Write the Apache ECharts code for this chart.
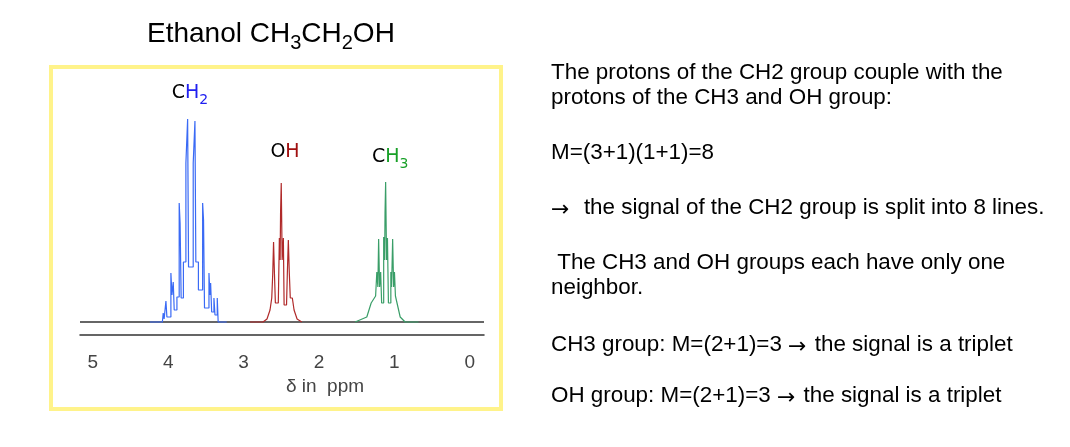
<!DOCTYPE html>
<html><head><meta charset="utf-8">
<script src="https://cdn.jsdelivr.net/npm/echarts@6/dist/echarts.min.js"></script>
<style>html,body{margin:0;padding:0;background:#fff}#c{width:1070px;height:447px}</style>
</head><body><div id="c"></div>
<script>
// ---- data (ppm, relative intensity) ----
const xTicks = [5, 4, 3, 2, 1, 0];
const xName = 'δ in  ppm';
const baselineTrace = [[5.17, 0], [-0.19, 0]];
const ch2Trace = [[4.243,0],[4.077,0],[4.066,0],[4.066,9],[4.054,9],[4.054,3],[4.030,3],[4.030,21],[4.017,21],[4.017,5],[3.964,5],[3.964,49],[3.950,49],[3.950,27],[3.933,27],[3.933,40],[3.920,40],[3.920,12],[3.884,12],[3.884,25],[3.854,25],[3.854,119],[3.842,119],[3.842,99],[3.828,99],[3.828,24],[3.798,24],[3.798,60],[3.765,60],[3.765,159],[3.742,159],[3.742,203],[3.730,203],[3.730,55],[3.668,55],[3.668,159],[3.645,159],[3.645,201],[3.633,201],[3.633,60],[3.599,60],[3.599,32],[3.543,32],[3.543,119],[3.531,119],[3.531,102],[3.518,102],[3.518,14],[3.459,14],[3.459,49],[3.446,49],[3.446,27],[3.437,27],[3.437,39],[3.423,39],[3.423,10],[3.393,10],[3.393,24],[3.379,24],[3.379,7],[3.349,7],[3.349,24],[3.337,24],[3.337,0],[3.224,0]];
const ohTrace = [[2.915,0],[2.742,0],[2.689,3],[2.649,12],[2.626,24],[2.613,24],[2.613,48],[2.602,48],[2.602,80],[2.590,80],[2.590,48],[2.578,48],[2.578,19],[2.539,19],[2.525,19],[2.525,84],[2.515,84],[2.515,62],[2.509,62],[2.509,109],[2.500,109],[2.500,139],[2.488,139],[2.488,62],[2.472,62],[2.472,84],[2.462,84],[2.462,17],[2.430,17],[2.419,17],[2.419,49],[2.406,49],[2.406,82],[2.393,82],[2.393,49],[2.380,49],[2.380,24],[2.353,24],[2.330,12],[2.290,3],[2.228,0]];
const ch3Trace = [[1.520,0],[1.365,5],[1.307,19],[1.248,26],[1.232,26],[1.232,50],[1.218,50],[1.218,35],[1.208,35],[1.208,83],[1.195,83],[1.195,35],[1.181,35],[1.181,50],[1.168,50],[1.168,19],[1.141,19],[1.141,85],[1.128,85],[1.128,62],[1.123,62],[1.123,109],[1.115,109],[1.115,140],[1.103,140],[1.103,62],[1.091,62],[1.091,84],[1.078,84],[1.078,19],[1.046,19],[1.046,50],[1.036,50],[1.036,35],[1.022,35],[1.022,83],[1.009,83],[1.009,35],[0.998,35],[0.998,50],[0.985,50],[0.985,26],[0.969,26],[0.922,5],[0.856,0],[0.679,0]];
const peakLabels = ['{k|C}{h|H}{s|2}', '{k|O}{h|H}', '{k|C}{h|H}{s|3}'];
const titleText = '{m|Ethanol CH}{s|3}{m|CH}{s|2}{m|OH}';
const notes = [
  '{t|The protons of the CH2 group couple with the}',
  '{t|protons of the CH3 and OH group:}',
  '{t|M=(3+1)(1+1)=8}',
  '{a|→}{t|  the signal of the CH2 group is split into 8 lines.}',
  '{t| The CH3 and OH groups each have only one}',
  '{t|neighbor.}',
  '{t|CH3 group: M=(2+1)=3 }{a|→}{t| the signal is a triplet}',
  '{t|OH group: M=(2+1)=3 }{a|→}{t| the signal is a triplet}'
];
// ---- layout / styles ----
const noteY = [75, 100, 155, 210, 265, 290, 347, 398];
const labelCoords = [[3.711, 226], [2.450, 167.5], [1.055, 162]];
const colors = ['#3a6af5', '#b02a2a', '#3a9e68'];
const hColors = ['#2020f0', '#a01010', '#18a028'];

const chart = echarts.init(document.getElementById('c'), null, {renderer: 'canvas'});
function labelRich(i) {
  return {
    k: {fontFamily: 'DejaVu Sans', fontSize: 19, color: '#000', lineHeight: 24, verticalAlign: 'top'},
    h: {fontFamily: 'DejaVu Sans', fontSize: 19, color: hColors[i], lineHeight: 24, verticalAlign: 'top'},
    s: {fontFamily: 'DejaVu Sans', fontSize: 14, color: hColors[i], lineHeight: 16, padding: [9, 0, 0, 0], verticalAlign: 'top'}
  };
}
function peakSeries(trace, i) {
  return {
    type: 'line', data: trace, symbol: 'none', silent: true, z: 3,
    lineStyle: {color: colors[i], width: 1.2},
    markPoint: {
      symbol: 'rect', symbolSize: 1, itemStyle: {color: 'rgba(0,0,0,0)'}, silent: true,
      label: {show: true, position: 'inside', formatter: peakLabels[i], rich: labelRich(i)},
      data: [{coord: labelCoords[i]}]
    }
  };
}
const noteRich = {
  t: {fontFamily: 'Liberation Sans', fontSize: 22.4, color: '#000', lineHeight: 26, verticalAlign: 'top'},
  a: {fontFamily: 'DejaVu Sans', fontSize: 22, color: '#000', lineHeight: 26, padding: [2, 2, 0, 0], verticalAlign: 'top'}
};
const graphics = [
  {type: 'rect', shape: {x: 51, y: 67, width: 450, height: 342}, style: {fill: 'none', stroke: '#fff38a', lineWidth: 4}, z: 0},
  {type: 'text', x: 147, y: 20, style: {text: titleText, verticalAlign: 'top', rich: {
    m: {fontFamily: 'Liberation Sans', fontSize: 28, color: '#222', lineHeight: 34, verticalAlign: 'top'},
    s: {fontFamily: 'Liberation Sans', fontSize: 20, color: '#222', lineHeight: 22, padding: [13, 0, 0, 0], verticalAlign: 'top'}
  }}},
  {type: 'text', x: 325, y: 387, style: {text: xName, align: 'center', verticalAlign: 'middle', font: '19px "Liberation Sans"', fill: '#444'}}
];
notes.forEach((t, i) => graphics.push({type: 'text', x: 551, y: noteY[i], style: {text: t, verticalAlign: 'middle', rich: noteRich}}));

chart.setOption({
  animation: false,
  backgroundColor: '#fff',
  grid: {left: 80, right: 586, top: 58, bottom: 112},
  xAxis: {
    type: 'value', min: -0.19, max: 5.17, inverse: true,
    axisLine: {show: true, onZero: false, lineStyle: {color: '#333', width: 1.5}},
    axisTick: {show: false}, splitLine: {show: false},
    axisLabel: {customValues: xTicks, margin: 18, fontFamily: 'Liberation Sans', fontSize: 19, color: '#444'}
  },
  yAxis: {type: 'value', min: -13, max: 264, show: false},
  series: [
    {type: 'line', data: baselineTrace, symbol: 'none', silent: true, z: 2, lineStyle: {color: '#333', width: 1.5}},
    peakSeries(ch2Trace, 0), peakSeries(ohTrace, 1), peakSeries(ch3Trace, 2)
  ],
  graphic: graphics
});
</script></body></html>
